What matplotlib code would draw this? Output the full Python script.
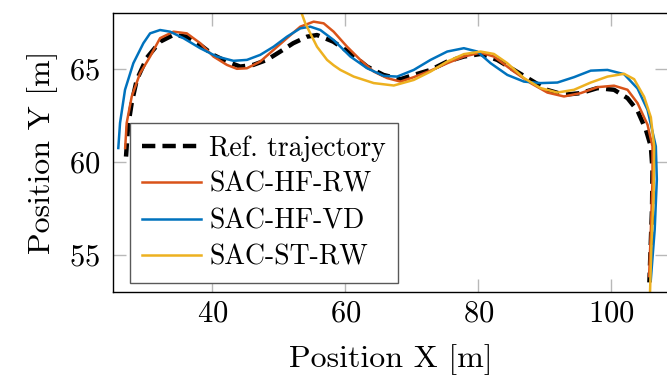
import matplotlib
matplotlib.use("Agg")
import matplotlib.pyplot as plt

plt.rcParams['font.family'] = ['cmr10', 'DejaVu Serif']
plt.rcParams['mathtext.fontset'] = 'cm'
plt.rcParams['axes.formatter.use_mathtext'] = True

# reference trajectory
ref_x = [27.0, 27.3, 27.86, 28.61, 30.12, 32.12, 34.08, 36.14, 38.15, 40.11, 42.17, 44.17,
         46.13, 48.19, 50.2, 52.15, 54.22, 55.72, 58.18, 60.74, 63.25, 65.71, 68.27, 70.27,
         72.79, 75.3, 77.8, 80.32, 82.83, 85.33, 87.85, 90.36, 92.86, 95.38, 97.89, 100.39,
         102.41, 103.92, 105.17, 105.92, 106.17, 106.1, 105.9, 105.7]
ref_y = [60.28, 61.89, 63.18, 64.41, 65.6, 66.47, 66.83, 66.74, 66.3, 65.76, 65.4, 65.13,
         65.22, 65.49, 65.94, 66.39, 66.74, 66.83, 66.47, 65.85, 65.13, 64.68, 64.45, 64.68,
         64.95, 65.4, 65.67, 65.81, 65.49, 64.95, 64.41, 63.87, 63.61, 63.7, 63.97, 63.88,
         63.43, 62.75, 61.73, 60.83, 59.58, 57.5, 55.5, 53.5]

# SAC-HF-RW
hfrw_x = [26.87, 27.1, 27.86, 29.11, 30.62, 32.12, 34.13, 36.14, 38.15, 40.15, 42.17, 43.67,
          45.18, 47.18, 49.19, 51.2, 53.21, 55.21, 56.72, 58.22, 60.24, 62.24, 64.25, 66.26,
          68.27, 70.27, 72.79, 75.3, 77.8, 80.32, 82.32, 85.33, 87.85, 90.36, 92.86, 95.38,
          97.89, 100.39, 102.41, 103.92, 105.42, 106.17, 106.17, 105.92, 105.66]
hfrw_y = [60.74, 62.09, 63.52, 64.77, 65.67, 66.66, 67.01, 66.92, 66.39, 65.67, 65.22, 65.01,
          65.04, 65.4, 66.03, 66.66, 67.28, 67.55, 67.46, 67.01, 66.2, 65.49, 64.86, 64.51,
          64.32, 64.56, 64.91, 65.31, 65.67, 65.88, 65.67, 64.86, 64.24, 63.73, 63.52, 63.7,
          64.02, 64.1, 63.88, 63.16, 62.0, 60.83, 59.04, 56.35, 53.84]

# SAC-HF-VD
hfvd_x = [25.84, 26.1, 26.85, 28.1, 29.61, 30.62, 32.12, 33.63, 35.63, 38.15, 40.66, 43.16,
          45.18, 47.18, 49.19, 51.2, 53.21, 54.71, 56.22, 58.22, 60.74, 63.25, 65.75, 67.77,
          70.27, 72.79, 75.3, 77.8, 79.82, 81.83, 84.34, 86.84, 89.35, 91.87, 94.37, 96.88,
          99.4, 101.9, 103.92, 105.42, 106.67, 106.82, 106.5, 105.92]
hfvd_y = [60.74, 62.09, 63.88, 65.31, 66.39, 66.92, 67.1, 67.01, 66.66, 66.12, 65.67, 65.44,
          65.49, 65.76, 66.2, 66.74, 67.19, 67.28, 67.1, 66.56, 65.67, 65.04, 64.63, 64.59,
          64.95, 65.49, 65.94, 66.12, 65.94, 65.31, 64.68, 64.32, 64.24, 64.27, 64.56, 64.91,
          64.95, 64.72, 63.95, 62.8, 60.83, 59.04, 56.35, 53.66]

# SAC-ST-RW
strw_x = [52.9, 53.96, 54.71, 55.72, 57.23, 58.22, 59.23, 61.24, 64.25, 67.26, 70.27, 72.79,
          75.3, 77.8, 80.32, 82.32, 84.34, 86.84, 89.35, 91.87, 94.37, 96.88, 99.4, 101.9,
          103.41, 104.91, 105.92, 106.42, 106.33, 106.0, 105.8]
strw_y = [68.5, 67.46, 66.92, 66.2, 65.49, 65.2, 64.95, 64.59, 64.24, 64.11, 64.41, 64.86,
          65.4, 65.8, 65.94, 65.81, 65.31, 64.51, 63.97, 63.73, 63.88, 64.27, 64.59, 64.74,
          64.45, 63.5, 62.4, 60.83, 58.14, 55.45, 53.0]

fig = plt.figure(figsize=(6.67, 3.78), dpi=100)
ax = fig.add_axes([0.169, 0.2283, 0.8325, 0.7365])

ax.plot(ref_x, ref_y, color='black', lw=3.2, dashes=(3, 1.6), label='Ref. trajectory')
ax.plot(hfrw_x, hfrw_y, color='#D95319', lw=1.8, label='SAC-HF-RW')
ax.plot(hfvd_x, hfvd_y, color='#0072BD', lw=1.8, label='SAC-HF-VD')
ax.plot(strw_x, strw_y, color='#EDB120', lw=1.8, label='SAC-ST-RW')

ax.set_xlim(25, 108.5)
ax.set_ylim(53, 68)
ax.set_xticks([40, 60, 80, 100])
ax.set_yticks([55, 60, 65])
ax.tick_params(direction='in', length=9.5, width=1, color='0.72', labelsize=22,
               top=True, right=True)
ax.tick_params(axis='x', pad=6)
ax.tick_params(axis='y', pad=9)
for s in ax.spines.values():
    s.set_linewidth(1.0)

ax.set_xlabel('Position X [m]', fontsize=23, labelpad=12)
ax.set_ylabel('Position Y [m]', fontsize=23, labelpad=8)

leg = ax.legend(loc='lower left', bbox_to_anchor=(0.031, 0.031), borderaxespad=0,
                fontsize=20, fancybox=False, framealpha=1, edgecolor='0.35',
                handlelength=2.1, handletextpad=0.3, labelspacing=0.36, borderpad=0.45)
leg.get_frame().set_linewidth(1.0)

fig.savefig('out.png', dpi=100)
